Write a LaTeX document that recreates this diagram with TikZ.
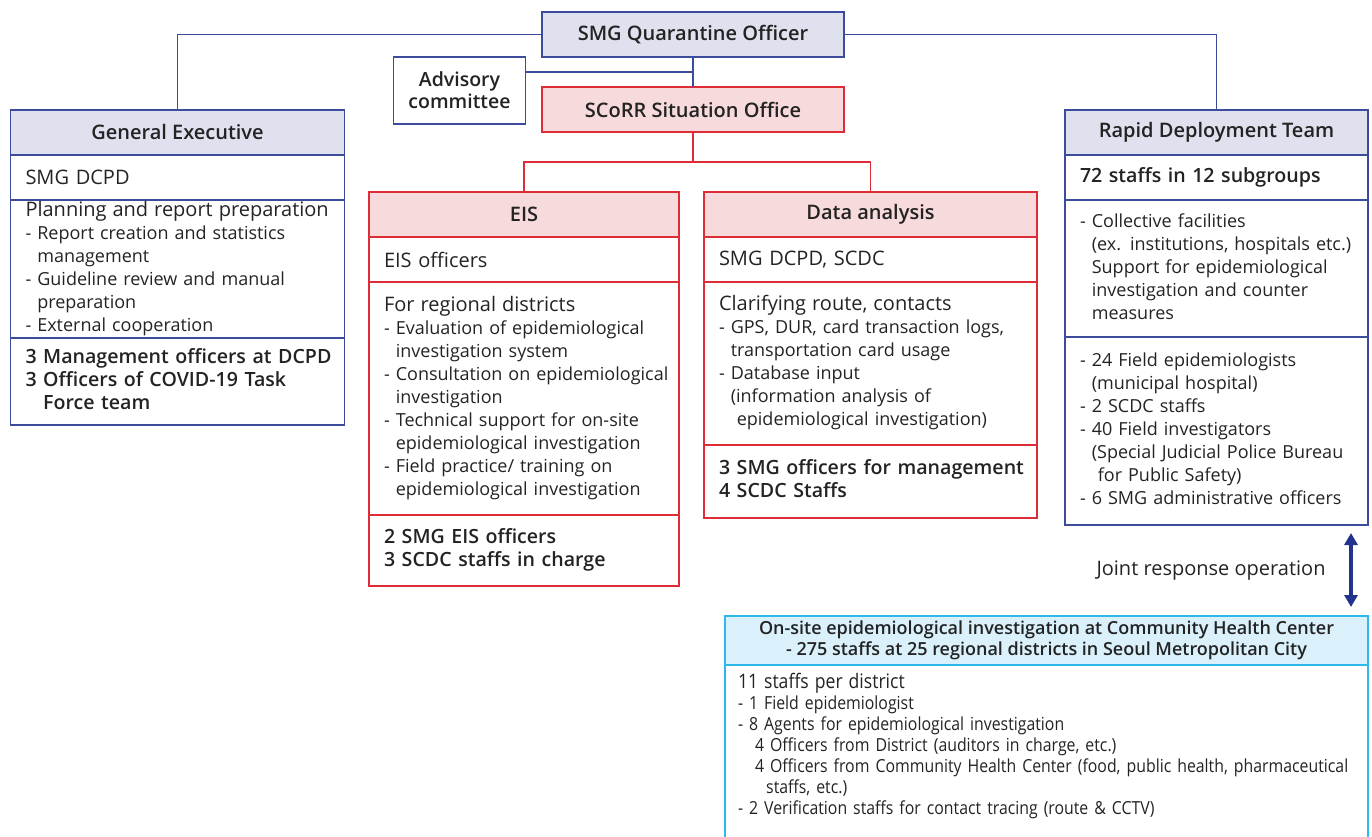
\documentclass[tikz,border=0pt]{standalone}
\usepackage{fontspec}
\setmainfont{Open Sans}[BoldFont={Open Sans Semibold}]
\newfontfamily\condfont[FakeStretch=0.88]{Open Sans}
\usetikzlibrary{positioning,arrows.meta}
\definecolor{orgblue}{RGB}{60,75,155}
\definecolor{orglav}{RGB}{223,225,238}
\definecolor{orgred}{RGB}{222,45,55}
\definecolor{orgpink}{RGB}{247,218,219}
\definecolor{orgcyan}{RGB}{45,185,235}
\definecolor{orgice}{RGB}{218,241,251}
\definecolor{orgnavy}{RGB}{35,50,140}
\definecolor{txt}{RGB}{35,35,35}
\newcommand{\indt}{\hphantom{-\ }}
\newcommand{\boxlines}[1]{\begin{tabular}{@{}l@{}}#1\end{tabular}}
\newcommand{\toprow}[1]{{\fontsize{20}{23}\selectfont #1}}
\tikzset{
  sec/.style={draw=#1,line width=1.2pt,outer sep=0pt,inner xsep=15pt,inner ysep=0pt,text=txt,font=\fontsize{18}{23}\selectfont},
  body/.style={text width=#1,align=left},
  head/.style={fill=#1,align=center,font=\bfseries\fontsize{20}{23}\selectfont},
  lead/.style={font=\fontsize{20}{23}\selectfont},
  staff/.style={font=\bfseries\fontsize{19.6}{23}\selectfont},
  bline/.style={orgblue,line width=1.2pt},
  rline/.style={orgred,line width=1.2pt},
  jarrow/.style={orgnavy,line width=4pt,{Triangle[length=12pt,width=13pt]}-{Triangle[length=12pt,width=13pt]}},
  every picture/.style={x=1pt,y=1pt}
}
\begin{document}
\begin{tikzpicture}
\useasboundingbox (0,0) rectangle (1372,-837);
% top of the chart
\node[sec=orgblue,head=orglav,minimum width=302pt,minimum height=45pt] (qo) at (693,-34.5) {SMG Quarantine Officer};
\node[sec=orgblue,head=white,minimum width=129pt,minimum height=67pt,font=\bfseries\fontsize{19.5}{22}\selectfont] (adv) at (459.5,-90.5) {Advisory\\committee};
\node[sec=orgred,head=orgpink,minimum width=302pt,minimum height=45pt] (scorr) at (693,-109.5) {SCoRR Situation Office};
% general executive
\node[sec=orgblue,head=orglav,minimum width=334pt,minimum height=45pt,anchor=north] (ge) at (177.5,-110) {General Executive};
\node[sec=orgblue,lead,body=304pt,minimum height=45pt,below=0pt of ge] (ge1) {SMG DCPD};
\node[sec=orgblue,body=304pt,minimum height=138pt,below=0pt of ge1] (ge2) {\boxlines{\toprow{Planning and report preparation}\\- Report creation and statistics\\\indt management\\- Guideline review and manual\\\indt preparation\\- External cooperation}};
\node[sec=orgblue,staff,body=304pt,minimum height=87pt,below=0pt of ge2] (ge3) {\boxlines{3 Management officers at DCPD\\3 Officers of COVID-19 Task\\\hphantom{3\ }Force team}};
% EIS
\node[sec=orgred,head=orgpink,minimum width=310pt,minimum height=45pt,anchor=north] (eis) at (524,-192) {EIS};
\node[sec=orgred,lead,body=280pt,minimum height=45pt,below=0pt of eis] (eis1) {EIS officers};
\node[sec=orgred,body=280pt,minimum height=233pt,below=0pt of eis1] (eis2) {\boxlines{\toprow{For regional districts}\\- Evaluation of epidemiological\\\indt investigation system\\- Consultation on epidemiological\\\indt investigation\\- Technical support for on-site\\\indt epidemiological investigation\\- Field practice/ training on\\\indt epidemiological investigation}};
\node[sec=orgred,staff,body=280pt,minimum height=71pt,below=0pt of eis2] (eis3) {\boxlines{2 SMG EIS officers\\3 SCDC staffs in charge}};
% data analysis
\node[sec=orgred,head=orgpink,minimum width=333pt,minimum height=45pt,anchor=north] (da) at (870.5,-192) {Data analysis};
\node[sec=orgred,lead,body=303pt,minimum height=45pt,below=0pt of da] (da1) {SMG DCPD, SCDC};
\node[sec=orgred,body=303pt,minimum height=163pt,below=0pt of da1] (da2) {\boxlines{\toprow{Clarifying route, contacts}\\- GPS, DUR, card transaction logs,\\\indt transportation card usage\\- Database input\\\indt(information analysis of\\\indt\ epidemiological investigation)}};
\node[sec=orgred,staff,body=303pt,minimum height=73pt,below=0pt of da2] (da3) {\boxlines{3 SMG officers for management\\4 SCDC Staffs}};
% rapid deployment team
\node[sec=orgblue,head=orglav,minimum width=303pt,minimum height=45pt,anchor=north] (rdt) at (1216.5,-110) {Rapid Deployment Team};
\node[sec=orgblue,staff,body=273pt,minimum height=45pt,below=0pt of rdt] (rdt1) {72 staffs in 12 subgroups};
\node[sec=orgblue,body=273pt,minimum height=137pt,below=0pt of rdt1] (rdt2) {\boxlines{- Collective facilities\\\indt(ex. institutions, hospitals etc.)\\\indt Support for epidemiological\\\indt investigation and counter\\\indt measures}};
\node[sec=orgblue,body=273pt,minimum height=188pt,below=0pt of rdt2] (rdt3) {\boxlines{- 24 Field epidemiologists\\\indt(municipal hospital)\\- 2 SCDC staffs\\- 40 Field investigators\\\indt(Special Judicial Police Bureau\\\indt\ for Public Safety)\\- 6 SMG administrative officers}};
% community health center
\node[sec=orgcyan,head=orgice,font=\bfseries\fontsize{18}{21}\selectfont,minimum width=643pt,minimum height=49pt,anchor=north] (chc) at (1046.5,-616) {On-site epidemiological investigation at Community Health Center\\- 275 staffs at 25 regional districts in Seoul Metropolitan City};
\node[sec=orgcyan,body=617pt,inner xsep=13pt,inner ysep=8pt,below=0pt of chc,font=\condfont\fontsize{18}{21}\selectfont] (chc1) {\boxlines{{\fontsize{20}{21}\selectfont 11 staffs per district}\\- 1 Field epidemiologist\\- 8 Agents for epidemiological investigation\\\indt\ 4 Officers from District (auditors in charge, etc.)\\\indt\ 4 Officers from Community Health Center (food, public health, pharmaceutical\\\indt\ \indt staffs, etc.)\\- 2 Verification staffs for contact tracing (route \& CCTV)\rule[-22pt]{0pt}{22pt}}};
\node[text=txt,font=\fontsize{20}{23}\selectfont] (jro) at (1211,-571) {Joint response operation};
% connectors
\draw[bline] (qo.west) -| (ge.north);
\draw[bline] (qo.east) -| (rdt.north);
\draw[bline] (qo.south) -- (scorr.north);
\coordinate (advj) at ([yshift=18.5pt]adv.east);
\draw[bline] (advj) -- (advj -| qo.south);
\draw[rline] (scorr.south) -- ++(0,-30) coordinate (split);
\draw[rline] (split) -| (eis.north);
\draw[rline] (split) -| (da.north);
\draw[jarrow] ([xshift=134.5pt,yshift=-8pt]rdt3.south) -- ([xshift=304.5pt,yshift=9pt]chc.north);
\end{tikzpicture}
\end{document}
